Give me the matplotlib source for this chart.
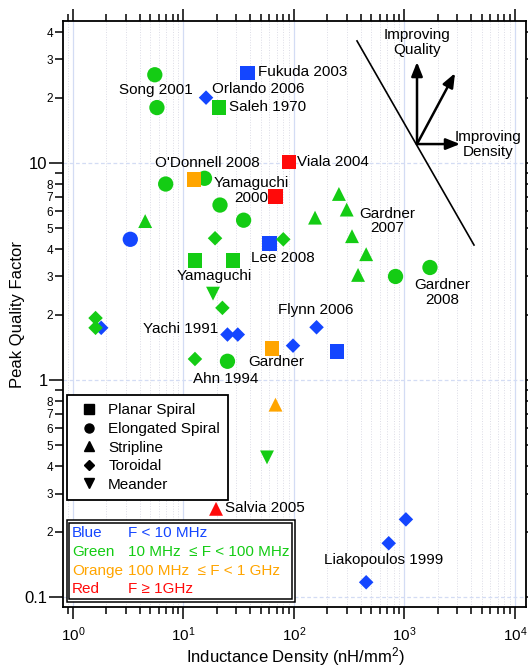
import numpy as np
import matplotlib
matplotlib.use("Agg")
import matplotlib.pyplot as plt
from matplotlib.lines import Line2D
from matplotlib.patches import Rectangle
from matplotlib.ticker import LogLocator, FixedLocator, FixedFormatter, NullFormatter

plt.rcParams['font.family'] = ['Liberation Sans', 'DejaVu Sans']
plt.rcParams['mathtext.fontset'] = 'custom'
plt.rcParams['mathtext.rm'] = 'Liberation Sans'
plt.rcParams['mathtext.it'] = 'Liberation Sans:italic'
plt.rcParams['mathtext.bf'] = 'Liberation Sans:bold'

# frequency bands -> colours
BAND_COLORS = {'B': '#1446FF', 'G': '#14CC14', 'O': '#FFA500', 'R': '#FF0A0A'}

# Planar spiral inductors (squares)
planar_density = [38, 21, 12.5, 90, 68, 60, 12.7, 28, 63, 245]
planar_q = [26, 18, 8.4, 10.1, 7.0, 4.25, 3.55, 3.55, 1.4, 1.35]
planar_band = ['B', 'G', 'O', 'R', 'R', 'B', 'G', 'G', 'O', 'B']

# Elongated spiral inductors (circles)
elong_density = [5.5, 5.75, 15.5, 6.9, 21.4, 35, 3.3, 25, 830, 1700]
elong_q = [25.5, 18, 8.5, 8.0, 6.4, 5.45, 4.45, 1.22, 3.0, 3.3]
elong_band = ['G', 'G', 'G', 'G', 'G', 'G', 'B', 'G', 'G', 'G']

# Stripline inductors (triangles)
strip_density = [4.5, 155, 255, 300, 335, 450, 380, 68, 19.7]
strip_q = [5.4, 5.6, 7.2, 6.1, 4.6, 3.8, 3.05, 0.77, 0.255]
strip_band = ['G', 'G', 'G', 'G', 'G', 'G', 'G', 'O', 'R']

# Toroidal inductors (diamonds)
toroid_density = [16, 1.8, 1.6, 1.6, 19.3, 80, 22.5, 12.7, 25, 31, 98, 160,
                  450, 720, 1030]
toroid_q = [20, 1.74, 1.93, 1.74, 4.5, 4.45, 2.15, 1.25, 1.62, 1.62, 1.44, 1.75,
            0.117, 0.177, 0.228]
toroid_band = ['B', 'B', 'G', 'G', 'G', 'G', 'G', 'G', 'B', 'B', 'B', 'B',
               'B', 'B', 'B']

# Meander inductors (inverted triangles)
meander_density = [18.5, 57]
meander_q = [2.5, 0.44]
meander_band = ['G', 'G']

# Reference labels: text, density, Q, horizontal alignment
ref_labels = [
    ("Fukuda 2003", 47.2, 26.2, 'left'),
    ("Song 2001", 12.2, 21.7, 'right'),
    ("Orlando 2006", 18.1, 21.9, 'left'),
    ("Saleh 1970", 25.8, 18.1, 'left'),
    ("O'Donnell 2008", 16.5, 10.0, 'center'),
    ("Yamaguchi\n2000", 40.8, 7.47, 'center'),
    ("Viala 2004", 106, 10.1, 'left'),
    ("Gardner\n2007", 695, 5.41, 'center'),
    ("Lee 2008", 40.8, 3.65, 'left'),
    ("Yamaguchi", 18.9, 3.01, 'center'),
    ("Gardner\n2008", 2185, 2.53, 'center'),
    ("Flynn 2006", 158, 2.10, 'center'),
    ("Yachi 1991", 20.5, 1.72, 'right'),
    ("Gardner", 38.4, 1.21, 'left'),
    ("Ahn 1994", 24.2, 1.01, 'center'),
    ("Salvia 2005", 23.8, 0.257, 'left'),
    ("Liakopoulos 1999", 652, 0.148, 'center'),
]

shape_names = ["Planar Spiral", "Elongated Spiral", "Stripline", "Toroidal", "Meander"]
band_names = ["Blue", "Green", "Orange", "Red"]
band_ranges = ["F < 10 MHz", "10 MHz  \u2264 F < 100 MHz",
               "100 MHz  \u2264 F < 1 GHz", "F \u2265 1GHz"]

fig = plt.figure(figsize=(5.28, 6.68), dpi=100)
ax = fig.add_axes([63 / 528, 61 / 668, 463 / 528, 586 / 668])
ax.set_xscale('log')
ax.set_yscale('log')
ax.set_xlim(0.812, 12580)
ax.set_ylim(0.090, 45.1)

# grid
ax.set_axisbelow(True)
ax.grid(which='major', axis='x', color='#D3DCF4', lw=0.9, ls='-')
ax.grid(which='minor', axis='x', color='#DCDCE6', lw=0.7, ls=':')
ax.grid(which='major', axis='y', color='#D3DCF4', lw=0.9, ls=(0, (3, 2)))

# markers
groups = [
    (elong_density, elong_q, elong_band, 'o', 11),
    (planar_density, planar_q, planar_band, 's', 10.5),
    (strip_density, strip_q, strip_band, '^', 10),
    (meander_density, meander_q, meander_band, 'v', 10),
    (toroid_density, toroid_q, toroid_band, 'D', 7.4),
]
for xs, ys, bands, mk, ms in groups:
    ax.scatter(xs, ys, c=[BAND_COLORS[b] for b in bands], marker=mk,
               s=ms ** 2, linewidths=0, zorder=3)

for text, x, y, ha in ref_labels:
    ax.text(x, y, text, ha=ha, va='center', fontsize=11, linespacing=1.05,
            multialignment='center', zorder=4)

# axes ticks
ax.xaxis.set_major_locator(LogLocator(base=10, numticks=10))
ax.xaxis.set_minor_locator(LogLocator(base=10, subs=np.arange(2, 10), numticks=20))
ax.xaxis.set_minor_formatter(NullFormatter())

y_major = [0.1, 1, 10]
y_major_labels = ['0.1', '1', '10']
y_minor = [0.2, 0.3, 0.4, 0.5, 0.6, 0.7, 0.8, 0.9,
           2, 3, 4, 5, 6, 7, 8, 9, 20, 30, 40]
y_minor_labels = ['2', '3', '4', '5', '6', '7', '8', '',
                  '2', '3', '4', '5', '6', '7', '8', '', '2', '3', '4']
ax.yaxis.set_major_locator(FixedLocator(y_major))
ax.yaxis.set_major_formatter(FixedFormatter(y_major_labels))
ax.yaxis.set_minor_locator(FixedLocator(y_minor))
ax.yaxis.set_minor_formatter(FixedFormatter(y_minor_labels))

ax.tick_params(which='both', direction='out', top=True, right=True, width=1.1)
ax.tick_params(axis='y', which='major', length=10, labelsize=12, pad=1)
ax.tick_params(axis='y', which='minor', length=6, labelsize=8.5, pad=1)
ax.tick_params(axis='x', which='major', length=8.6, labelsize=11, pad=5)
ax.tick_params(axis='x', which='minor', length=5)
for sp in ax.spines.values():
    sp.set_linewidth(1.3)

fig.text(18 / 528, 1 - 314 / 668, "Peak Quality Factor", rotation=90,
         ha='center', va='center', fontsize=12)
fig.text(295 / 528, 0.0, "Inductance Density (nH/mm$^2$)",
         ha='center', va='bottom', fontsize=12)

# trade-off boundary and improvement arrows
ax.plot([0.635, 0.8877], [0.966, 0.6177], transform=ax.transAxes,
        color='black', lw=1.2, zorder=4)
origin = (0.7646, 0.790)
for tip in [(0.7646, 0.930), (0.8467, 0.911), (0.8575, 0.790)]:
    ax.annotate('', xy=tip, xytext=origin, xycoords='axes fraction',
                textcoords='axes fraction',
                arrowprops=dict(arrowstyle='-|>,head_length=0.7,head_width=0.28',
                                mutation_scale=12, lw=1.8, color='black',
                                shrinkA=0, shrinkB=0), zorder=4)
ax.text(0.7646, 0.9633, "Improving\nQuality", transform=ax.transAxes,
        ha='center', va='center', fontsize=11, linespacing=1.05)
ax.text(0.918, 0.789, "Improving\nDensity", transform=ax.transAxes,
        ha='center', va='center', fontsize=11, linespacing=1.05)

# marker-shape legend
shape_handles = [
    Line2D([], [], marker='s', color='black', ls='none', markersize=6.5),
    Line2D([], [], marker='o', color='black', ls='none', markersize=6.5),
    Line2D([], [], marker='^', color='black', ls='none', markersize=6.5),
    Line2D([], [], marker='D', color='black', ls='none', markersize=4.6),
    Line2D([], [], marker='v', color='black', ls='none', markersize=6.5),
]
leg = ax.legend(shape_handles, shape_names, loc='upper left',
                bbox_to_anchor=(0.0086, 0.3618), borderaxespad=0,
                fontsize=11, frameon=True, fancybox=False, framealpha=1,
                edgecolor='black', borderpad=0.55, labelspacing=0.3,
                handlelength=1.75, handletextpad=0.4)
leg.get_frame().set_linewidth(1.3)
leg.set_zorder(6)

# frequency-band legend with a double frame
x0, x1, y0, y1 = 0.008, 0.501, 0.0085, 0.1485
ax.add_patch(Rectangle((x0, y0), x1 - x0, y1 - y0, transform=ax.transAxes,
                       facecolor='white', edgecolor='black', lw=1.1, zorder=6))
dx, dy = 2.6 / 463, 2.6 / 586
ax.add_patch(Rectangle((x0 + dx, y0 + dy), x1 - x0 - 2 * dx, y1 - y0 - 2 * dy,
                       transform=ax.transAxes, facecolor='white',
                       edgecolor='black', lw=1.1, zorder=6))
row_y = [0.1263, 0.0939, 0.0614, 0.0307]
for name, rng, key, yy in zip(band_names, band_ranges, ['B', 'G', 'O', 'R'], row_y):
    ax.text(0.0194, yy, name, transform=ax.transAxes, color=BAND_COLORS[key],
            fontsize=11, ha='left', va='center', zorder=7)
    ax.text(0.1404, yy, rng, transform=ax.transAxes, color=BAND_COLORS[key],
            fontsize=11, ha='left', va='center', zorder=7)

fig.savefig('out.png', dpi=100)
